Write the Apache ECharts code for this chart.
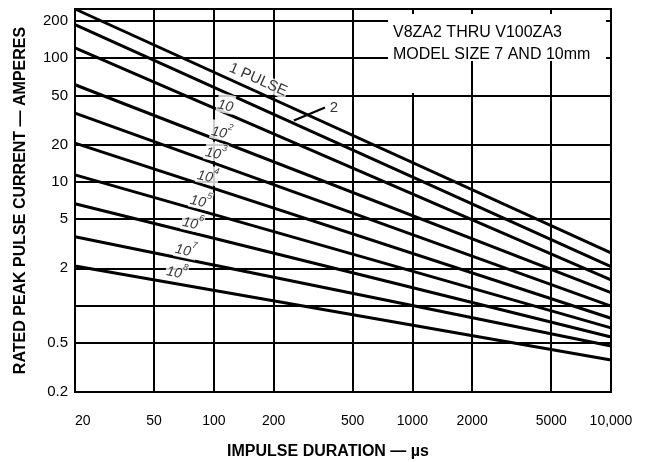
<!DOCTYPE html>
<html>
<head>
<meta charset="utf-8">
<title>Rated Peak Pulse Current vs Impulse Duration</title>
<script src="https://cdn.jsdelivr.net/npm/echarts@6.0.0/dist/echarts.min.js"></script>
<style>
  html, body { margin: 0; padding: 0; background: #fff; }
  #chart { width: 646px; height: 462px; }
</style>
</head>
<body>
<div id="chart"></div>
<script>
// Impulse duration (µs) at the two ends of each derating line
const durations = [20, 10000];

// Rated peak current (A) at 20 µs and at 10,000 µs, one array per pulse count
const pulse1 = [250, 2.67];
const pulse2 = [187, 2.06];
const pulse1e1 = [121, 1.61];
const pulse1e2 = [61, 1.27];
const pulse1e3 = [36, 0.99];
const pulse1e4 = [20.6, 0.79];
const pulse1e5 = [11.4, 0.66];
const pulse1e6 = [6.65, 0.557];
const pulse1e7 = [3.6, 0.471];
const pulse1e8 = [2.09, 0.363];

// Axis ticks
const xTicks = [20, 50, 100, 200, 500, 1000, 2000, 5000, 10000];
const yGrid = [0.2, 0.5, 1, 2, 5, 10, 20, 50, 100, 200];
const yLabels = [0.2, 0.5, 2, 5, 10, 20, 50, 100, 200];

const curves = [pulse1, pulse2, pulse1e1, pulse1e2, pulse1e3, pulse1e4, pulse1e5, pulse1e6, pulse1e7, pulse1e8];
const curveNames = ['1 PULSE', '2', '10', '10^2', '10^3', '10^4', '10^5', '10^6', '10^7', '10^8'];

// Curve captions: [duration, current, text, rotation]
const captions = [
  [167, 67, '1 PULSE', -24],
  [115, 42.9, '{b|10}', -12],
  [110, 25.9, '{b|10}{s|2}', -12],
  [102.6, 17.5, '{b|10}{s|3}', -12],
  [93.5, 11.4, '{b|10}{s|4}', -12],
  [86.2, 7.18, '{b|10}{s|5}', -12],
  [78.6, 4.76, '{b|10}{s|6}', -12],
  [72.4, 2.88, '{b|10}{s|7}', -12],
  [65.3, 1.91, '{b|10}{s|8}', -12],
  [403, 39.9, '2', 0]
];

const FONT = '"Liberation Sans", Arial, Helvetica, sans-serif';
const INK = '#000';

const chart = echarts.init(document.getElementById('chart'), null, { renderer: 'canvas' });

const lineSeries = curves.map((vals, i) => {
  const s = {
    name: curveNames[i],
    type: 'line',
    data: durations.map((d, j) => [d, vals[j]]),
    symbol: 'none',
    silent: true,
    z: 3,
    lineStyle: { color: INK, width: 3 }
  };
  if (i === 1) {
    // curved leader from the "2" caption down to its line
    s.markLine = {
      silent: true,
      symbol: ['none', 'arrow'],
      symbolSize: [0, 10],
      label: { show: false },
      lineStyle: { color: INK, width: 2.2, type: 'solid', curveness: -0.45 },
      data: [[{ coord: [363, 39.9] }, { coord: [253, 31.3] }]]
    };
  }
  return s;
});

const captionSeries = {
  type: 'scatter',
  silent: true,
  z: 5,
  symbolSize: 0,
  data: captions.map(c => ({
    value: [c[0], c[1]],
    label: {
      show: true,
      position: 'inside',
      rotate: c[3],
      formatter: c[2],
      fontSize: c[2].indexOf('{b|') === 0 ? 14 : 15
    }
  })),
  label: {
    show: true,
    color: INK,
    fontFamily: FONT,
    fontSize: 15,
    backgroundColor: '#fff',
    padding: [0, 1],
    rich: {
      b: { fontFamily: FONT, fontSize: 14, fontStyle: 'italic', color: INK, lineHeight: 19, verticalAlign: 'bottom' },
      s: { fontFamily: FONT, fontSize: 9, fontStyle: 'italic', color: INK, lineHeight: 19, verticalAlign: 'top' }
    }
  }
};

chart.setOption({
  animation: false,
  backgroundColor: '#fff',
  grid: {
    left: 75, right: 35, top: 9, bottom: 70,
    outerBoundsMode: 'none',
    containLabel: false,
    show: true, borderColor: INK, borderWidth: 2, backgroundColor: 'transparent'
  },
  xAxis: {
    type: 'log',
    logBase: 10,
    min: 20,
    max: 10000,
    name: 'IMPULSE DURATION — µs',
    nameLocation: 'middle',
    nameGap: 52,
    nameTextStyle: { fontFamily: FONT, fontSize: 16, fontWeight: 'bold', color: INK, padding: [0, 30, 0, 0] },
    axisLine: { show: false },
    axisTick: { show: false, customValues: xTicks },
    axisLabel: {
      customValues: xTicks,
      alignMinLabel: 'left',
      margin: 22,
      color: INK,
      fontFamily: FONT,
      fontSize: 14,
      formatter: v => (v === 10000 ? '10,000' : String(v))
    },
    splitLine: { show: true, lineStyle: { color: INK, width: 2 } }
  },
  yAxis: {
    type: 'log',
    logBase: 10,
    min: 0.2,
    max: 250,
    name: 'RATED PEAK PULSE CURRENT — AMPERES',
    nameLocation: 'middle',
    nameRotate: 90,
    nameGap: 46,
    nameTextStyle: { fontFamily: FONT, fontSize: 16, fontWeight: 'bold', color: INK },
    axisLine: { show: false },
    axisTick: { show: false, customValues: yGrid },
    axisLabel: {
      customValues: yLabels,
      margin: 7,
      color: INK,
      fontFamily: FONT,
      fontSize: 15,
      formatter: v => String(v)
    },
    splitLine: { show: true, lineStyle: { color: INK, width: 2 } }
  },
  graphic: [
    { type: 'rect', z: 1, silent: true, shape: { x: 388, y: 14, width: 218, height: 47 }, style: { fill: '#fff' } },
    { type: 'rect', z: 1, silent: true, shape: { x: 400, y: 60, width: 30, height: 33 }, style: { fill: '#fff' } },
    {
      type: 'text', z: 2, silent: true, left: 393, top: 22,
      style: {
        text: 'V8ZA2 THRU V100ZA3\nMODEL SIZE 7 AND 10mm',
        font: '16px ' + FONT,
        fill: INK,
        lineHeight: 22
      }
    }
  ],
  series: lineSeries.concat([captionSeries])
});
</script>
</body>
</html>
